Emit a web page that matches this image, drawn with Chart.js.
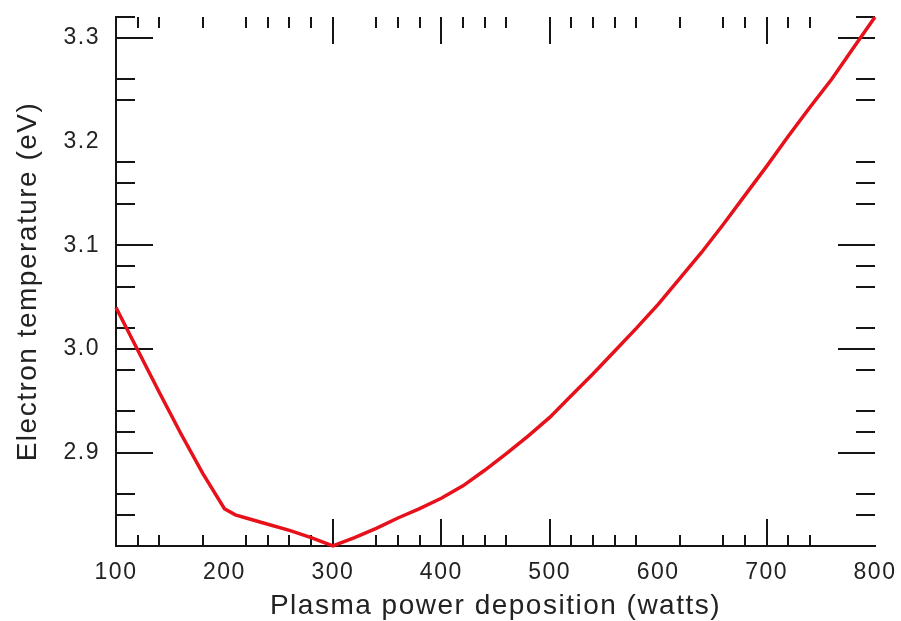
<!DOCTYPE html>
<html>
<head>
<meta charset="utf-8">
<script src="https://cdn.jsdelivr.net/npm/chart.js@4.4.1/dist/chart.umd.min.js"></script>
<style>
  html, body { margin: 0; padding: 0; background: #fff; }
  #wrap { width: 901px; height: 621px; }
</style>
</head>
<body>
<div id="wrap"><canvas id="myChart" width="901" height="621"></canvas></div>
<script>
// values
var power = [100, 120, 140, 160, 180, 200, 210, 220, 240, 260, 280, 300,
             320, 340, 360, 380, 400, 420, 440, 460, 480, 500, 520, 540, 560,
             580, 600, 620, 640, 660, 680, 700, 720, 740, 760, 780, 800];
var temperature = [3.040, 2.999, 2.958, 2.918, 2.880, 2.846, 2.840, 2.837, 2.831, 2.825, 2.818, 2.810,
                   2.818, 2.827, 2.837, 2.846, 2.856, 2.868, 2.883, 2.899, 2.916, 2.934, 2.955, 2.976, 2.998,
                   3.020, 3.043, 3.068, 3.093, 3.120, 3.148, 3.176, 3.205, 3.233, 3.260, 3.290, 3.320];

var xLabels = [100, 200, 300, 400, 500, 600, 700, 800];
var yLabels = [2.9, 3.0, 3.1, 3.2, 3.3];

// tick marks drawn inside the frame (the original has some missing)
var xMajorTicks = [300, 400, 500, 700];
var xMinorTicks = [120, 140, 180, 220, 240, 260, 280, 340, 360, 380, 420, 440, 460,
                   520, 540, 560, 580, 620, 660, 680, 720, 740];
var yMajorTicks = [3.3, 3.1, 3.0, 2.9];
var yMinorTicks = [3.32, 3.26, 3.24, 3.18, 3.16, 3.14, 3.08, 3.06, 3.02, 2.98, 2.94, 2.92, 2.86, 2.84];

var points = power.map(function (p, i) { return { x: p, y: temperature[i] }; });

// draws the inward ticks on all four sides
var innerTicks = {
    id: 'innerTicks',
    beforeDraw: function (chart) {
        chart.ctx.letterSpacing = '1.5px';
    },
    beforeDatasetsDraw: function (chart) {
        var ctx = chart.ctx;
        var a = chart.chartArea;
        var xs = chart.scales.x, ys = chart.scales.y;
        ctx.save();
        ctx.strokeStyle = '#151515';
        ctx.lineWidth = 2;
        ctx.beginPath();
        function vtick(v, len) {
            var px = Math.round(xs.getPixelForValue(v));
            ctx.moveTo(px, a.bottom); ctx.lineTo(px, a.bottom - len);
            ctx.moveTo(px, a.top); ctx.lineTo(px, a.top + len);
        }
        function htick(v, len) {
            var py = Math.round(ys.getPixelForValue(v));
            ctx.moveTo(a.left, py); ctx.lineTo(a.left + len, py);
            ctx.moveTo(a.right, py); ctx.lineTo(a.right - len, py);
        }
        xMinorTicks.forEach(function (v) { vtick(v, 11); });
        xMajorTicks.forEach(function (v) { vtick(v, 27); });
        yMinorTicks.forEach(function (v) { htick(v, 19); });
        yMajorTicks.forEach(function (v) { htick(v, 37); });
        ctx.stroke();
        ctx.restore();
    }
};

var ctx = document.getElementById('myChart').getContext('2d');
var myChart = new Chart(ctx, {
    type: 'line',
    data: {
        datasets: [{
            data: points,
            borderColor: '#e6111a',
            borderWidth: 3.5,
            pointRadius: 0,
            tension: 0,
            fill: false,
            clip: false
        }]
    },
    options: {
        responsive: false,
        animation: false,
        layout: { padding: { top: 17, right: 26, left: 0, bottom: 0 } },
        plugins: { legend: { display: false }, tooltip: { enabled: false } },
        scales: {
            x: {
                type: 'linear',
                min: 100,
                max: 800,
                afterFit: function (s) { s.height = 75; s.paddingLeft = 0; s.paddingRight = 0; },
                afterBuildTicks: function (s) { s.ticks = xLabels.map(function (v) { return { value: v }; }); },
                grid: { display: true, drawOnChartArea: false, drawTicks: false },
                border: { display: true, color: '#151515', width: 2 },
                ticks: {
                    padding: 13,
                    color: '#222',
                    font: { family: '"Liberation Sans", Arial, sans-serif', size: 23 },
                    maxRotation: 0,
                    callback: function (v) { return v; }
                },
                title: {
                    display: true,
                    text: 'Plasma power deposition (watts)',
                    color: '#222',
                    padding: { top: 0, bottom: -2 },
                    font: { family: '"Liberation Sans", Arial, sans-serif', size: 28 }
                }
            },
            y: {
                min: 2.81,
                max: 3.32,
                afterFit: function (s) { s.width = 116; s.paddingTop = 0; s.paddingBottom = 0; },
                afterBuildTicks: function (s) { s.ticks = yLabels.map(function (v) { return { value: v }; }); },
                grid: { display: true, drawOnChartArea: false, drawTicks: false },
                border: { display: true, color: '#151515', width: 2 },
                ticks: {
                    padding: 16,
                    color: '#222',
                    font: { family: '"Liberation Sans", Arial, sans-serif', size: 23 },
                    callback: function (v) { return v.toFixed(1); }
                },
                title: {
                    display: true,
                    text: 'Electron temperature (eV)',
                    color: '#222',
                    padding: { top: 11, bottom: 0 },
                    font: { family: '"Liberation Sans", Arial, sans-serif', size: 28 }
                }
            }
        }
    },
    plugins: [innerTicks]
});
</script>
</body>
</html>
